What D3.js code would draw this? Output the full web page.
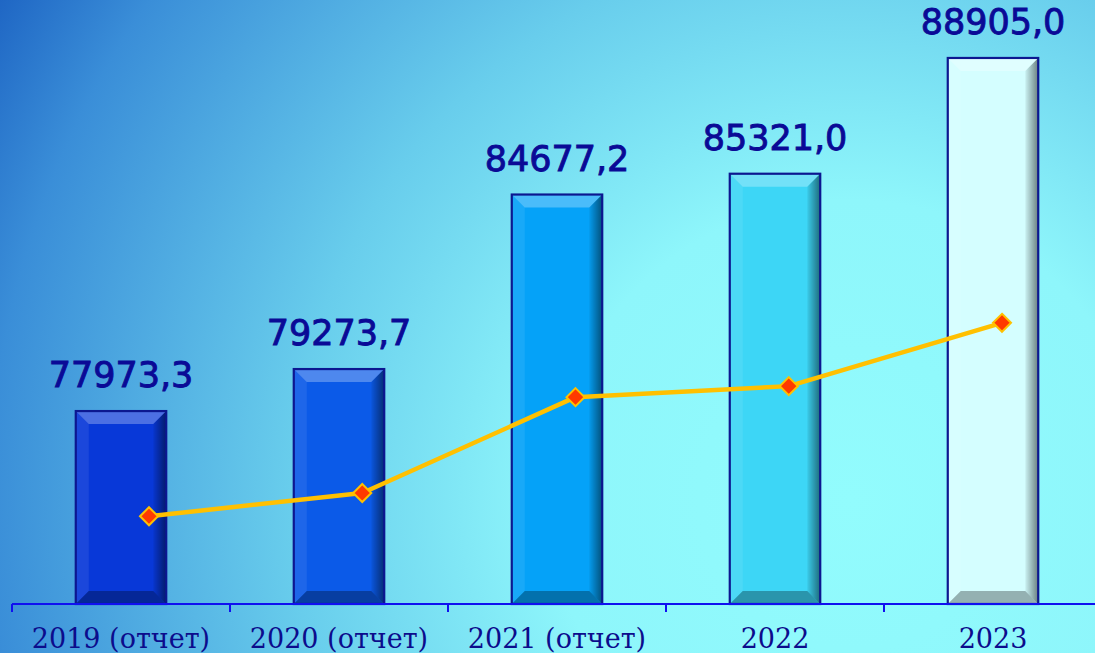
<!DOCTYPE html>
<html><head><meta charset="utf-8">
<script src="https://cdn.jsdelivr.net/npm/d3@7"></script>
<style>html,body{margin:0;padding:0;overflow:hidden;background:#fff}</style>
</head><body>
<svg id="chart" width="1095" height="653"></svg>
<script>
const categories = ["2019 (отчет)", "2020 (отчет)", "2021 (отчет)", "2022", "2023"];
const barValues = [77973.3, 79273.7, 84677.2, 85321.0, 88905.0];
const barLabels = ["77973,3", "79273,7", "84677,2", "85321,0", "88905,0"];
const lineValues = [15.1, 19.1, 35.6, 37.5, 48.4];
const barColors = ["#0838d8", "#0b5ae8", "#05a2f8", "#3dd6f6", "#d4feff"];

const W = 1095, H = 653;
const svg = d3.select("#chart");
const defs = svg.append("defs");

// background
const bg = defs.append("radialGradient").attr("id", "bg")
  .attr("gradientUnits", "userSpaceOnUse").attr("cx", 850).attr("cy", 500).attr("r", 1000);
[[0, "#92fcfd"], [0.3, "#8ef6fb"], [0.56, "#68cdec"], [0.86, "#3a8ed8"], [1, "#1c62c2"]]
  .forEach(([o, c]) => bg.append("stop").attr("offset", o).attr("stop-color", c));
svg.append("rect").attr("width", W).attr("height", H).attr("fill", "url(#bg)");

const rg = defs.append("linearGradient").attr("id", "rshade").attr("x1", 0).attr("x2", 1).attr("y1", 0).attr("y2", 0);
rg.append("stop").attr("offset", 0).attr("stop-color", "#000").attr("stop-opacity", 0.05);
rg.append("stop").attr("offset", 1).attr("stop-color", "#000").attr("stop-opacity", 0.5);

const baseY = 604;
const x = d3.scaleBand().domain(categories).range([12, 1102]).padding(0);
const y = d3.scaleLinear().domain([72000, 90000]).range([baseY, 22.6]);
const y2 = d3.scaleLinear().domain([0, 100]).range([baseY, 23]);
const xLine = d3.scalePoint().domain(categories).range([149, 1002]);

const barW = x.bandwidth() * 0.415;
const bev = 13;

const bars = svg.append("g").selectAll("g").data(categories).join("g")
  .attr("transform", (d, i) => `translate(${x(d) + x.bandwidth() / 2 - barW / 2},${y(barValues[i])})`);

bars.each(function (d, i) {
  const g = d3.select(this);
  const h = baseY - y(barValues[i]);
  const w = barW;
  g.append("rect").attr("width", w).attr("height", h).attr("fill", barColors[i]);
  // top bevel
  g.append("polygon").attr("points", `0,0 ${w},0 ${w - bev},${bev} ${bev},${bev}`)
    .attr("fill", "#fff").attr("fill-opacity", 0.28);
  // left bevel
  g.append("polygon").attr("points", `0,0 ${bev},${bev} ${bev},${h - bev} 0,${h}`)
    .attr("fill", "#fff").attr("fill-opacity", 0.08);
  // right bevel
  g.append("polygon").attr("points", `${w},0 ${w},${h} ${w - bev},${h - bev} ${w - bev},${bev}`)
    .attr("fill", "url(#rshade)");
  // bottom bevel
  g.append("polygon").attr("points", `0,${h} ${w},${h} ${w - bev},${h - bev} ${bev},${h - bev}`)
    .attr("fill", "#000").attr("fill-opacity", 0.3);
  g.append("rect").attr("width", w).attr("height", h).attr("fill", "none")
    .attr("stroke", "#0c1790").attr("stroke-width", 2.2);
});

// value labels
svg.append("g").selectAll("text").data(categories).join("text")
  .attr("x", d => x(d) + x.bandwidth() / 2)
  .attr("y", (d, i) => y(barValues[i]) - 24)
  .attr("text-anchor", "middle")
  .attr("font-family", "DejaVu Sans, sans-serif")
  .attr("font-size", 35)
  .attr("fill", "#0a0a96").attr("stroke", "#0a0a96").attr("stroke-width", 0.9)
  .text((d, i) => barLabels[i]);

// axis
const ax = svg.append("g");
ax.append("line").attr("x1", 12).attr("x2", W).attr("y1", baseY).attr("y2", baseY)
  .attr("stroke", "#1010f0").attr("stroke-width", 2);
ax.selectAll("line.tick").data(categories).join("line").attr("class", "tick")
  .attr("x1", d => x(d)).attr("x2", d => x(d)).attr("y1", baseY).attr("y2", baseY + 8)
  .attr("stroke", "#1010f0").attr("stroke-width", 2);
ax.selectAll("text").data(categories).join("text")
  .attr("x", d => x(d) + x.bandwidth() / 2)
  .attr("y", 648)
  .attr("text-anchor", "middle")
  .attr("font-family", "DejaVu Serif, serif")
  .attr("font-size", 27)
  .attr("fill", "#0c0c8c")
  .text(d => d);

// line
const line = d3.line().x((d, i) => xLine(categories[i])).y(d => y2(d));
svg.append("path").datum(lineValues).attr("d", line)
  .attr("fill", "none").attr("stroke", "#ffc000").attr("stroke-width", 4.5).attr("stroke-linejoin", "round");
svg.append("g").selectAll("path").data(lineValues).join("path")
  .attr("transform", (d, i) => `translate(${xLine(categories[i])},${y2(d)})`)
  .attr("d", "M0,-9 L9,0 L0,9 L-9,0 Z")
  .attr("fill", "#ff3a00").attr("stroke", "#ffc000").attr("stroke-width", 2);
</script>
</body></html>
